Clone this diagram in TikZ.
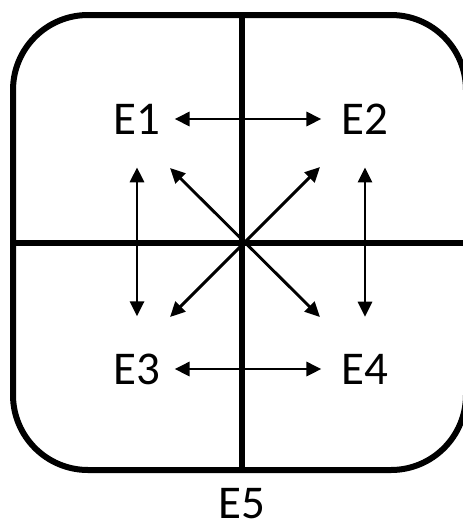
\documentclass[tikz,border=0pt]{standalone}
\usepackage{fontspec}
\setmainfont{Carlito}
\usetikzlibrary{arrows.meta}

\begin{document}
\begin{tikzpicture}[
    x=1pt, y=-1pt,
    every node/.style={font=\fontsize{47}{56}\selectfont, inner sep=0pt},
    frame/.style={line width=6pt},
    biarrow/.style={line width=2.9pt,
        {Triangle[length=15pt,width=14pt]}-{Triangle[length=15pt,width=14pt]}}
]
\useasboundingbox (0,0) rectangle (463,525);

% outer box and the two axes
\begin{scope}
\clip (0,0) rectangle (463,525);
\draw[frame, rounded corners=75pt] (13,15) rectangle (466,470);
\draw[frame] (242,15) -- (242,470);
\draw[frame] (13,243) -- (466,243);
\end{scope}

\node (e1) at (137,119) {E1};
\node (e2) at (365,119) {E2};
\node (e3) at (137,369) {E3};
\node (e4) at (365,369) {E4};
\node (e5) at (242,504) {E5};

\coordinate (d1) at (170,168);
\coordinate (d2) at (320,167);
\coordinate (d3) at (170,317);
\coordinate (d4) at (320,317);

\draw[biarrow, shorten <=14pt, shorten >=20pt] (e1.east) -- (e2.west);
\draw[biarrow, shorten <=14pt, shorten >=20pt] (e3.east) -- (e4.west);
\draw[biarrow, shorten <=33pt, shorten >=37pt] (e1.south) -- (e3.north);
\draw[biarrow, shorten <=33pt, shorten >=37pt] (e2.south) -- (e4.north);
\draw[biarrow] (d1) -- (d4);
\draw[biarrow] (d2) -- (d3);

\end{tikzpicture}
\end{document}
